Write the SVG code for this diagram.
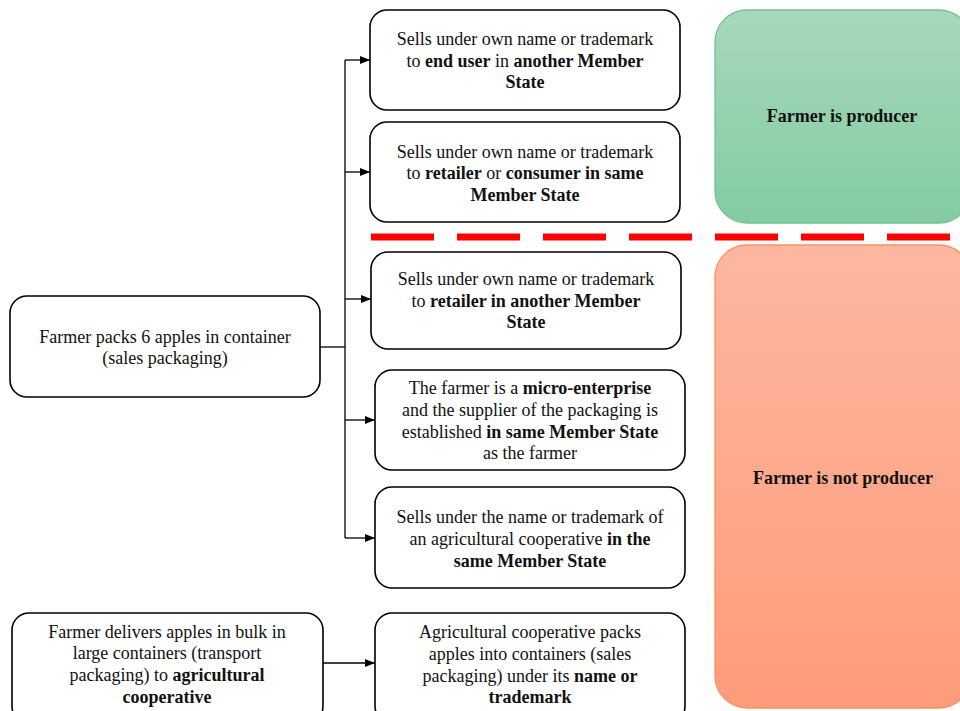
<svg xmlns="http://www.w3.org/2000/svg" width="960" height="711" viewBox="0 0 960 711">
<defs>
<linearGradient id="gG" x1="0" y1="0" x2="0" y2="1">
<stop offset="0" stop-color="#a7d8bb"/><stop offset="1" stop-color="#84cba2"/>
</linearGradient>
<linearGradient id="gR" x1="0" y1="0" x2="0" y2="1">
<stop offset="0" stop-color="#fdb7a0"/><stop offset="1" stop-color="#fe9b7b"/>
</linearGradient>
<marker id="ar" viewBox="0 0 10 10" refX="10" refY="5" markerWidth="10" markerHeight="10" markerUnits="userSpaceOnUse" orient="auto">
<path d="M0,1 L10,5 L0,9 Z" fill="#000"/>
</marker>
<style>
.box{fill:#fff;stroke:#000;stroke-width:1.6}
.t{font-family:'Liberation Serif','Times New Roman',Tinos,'DejaVu Serif','Noto Serif',serif;font-size:18px;fill:#111;text-anchor:middle}
.b{font-weight:bold}
.c{fill:none;stroke:#000;stroke-width:1.3}
.big{font-family:'Liberation Serif','Times New Roman',Tinos,'DejaVu Serif','Noto Serif',serif;font-size:18px;font-weight:bold;fill:#111;text-anchor:middle}
</style>
</defs>

<g id="zone-producer">
<rect x="715" y="10" width="256" height="213" rx="32" fill="url(#gG)" stroke="#72c492" stroke-width="1.3"/>
<text class="big" x="842" y="122">Farmer is producer</text>
</g>
<g id="zone-not-producer">
<rect x="715" y="245" width="256" height="463" rx="32" fill="url(#gR)" stroke="#f99260" stroke-width="1.3"/>
<text class="big" x="843" y="484">Farmer is not producer</text>
</g>

<g id="divider">
<line x1="371" y1="237" x2="960" y2="237" stroke="#ff0000" stroke-width="7" stroke-dasharray="63 23"/>
</g>

<g id="connectors">
<path class="c" d="M320,347 H345"/>
<path class="c" d="M345,60 V538"/>
<path class="c" d="M345,60 H370" marker-end="url(#ar)"/>
<path class="c" d="M345,172 H370" marker-end="url(#ar)"/>
<path class="c" d="M345,299 H371" marker-end="url(#ar)"/>
<path class="c" d="M345,420 H375" marker-end="url(#ar)"/>
<path class="c" d="M345,538 H375" marker-end="url(#ar)"/>
<path class="c" d="M323,663 H375" marker-end="url(#ar)"/>
</g>

<g id="farmer-packs">
<rect class="box" x="10" y="296" width="310" height="101" rx="17"/>
<text class="t" x="165" y="343">Farmer packs 6 apples in container</text>
<text class="t" x="165" y="364">(sales packaging)</text>
</g>

<g id="end-user-other-ms">
<rect class="box" x="370" y="10" width="310" height="100" rx="17"/>
<text class="t" x="525" y="45">Sells under own name or trademark</text>
<text class="t" x="525" y="67">to <tspan class="b">end user</tspan> in <tspan class="b">another Member</tspan></text>
<text class="t b" x="525" y="88">State</text>
</g>

<g id="retailer-same-ms">
<rect class="box" x="370" y="122" width="310" height="100" rx="17"/>
<text class="t" x="525" y="158">Sells under own name or trademark</text>
<text class="t" x="525" y="179">to <tspan class="b">retailer</tspan> or <tspan class="b">consumer in same</tspan></text>
<text class="t b" x="525" y="201">Member State</text>
</g>

<g id="retailer-other-ms">
<rect class="box" x="371" y="252" width="310" height="97" rx="17"/>
<text class="t" x="526" y="285">Sells under own name or trademark</text>
<text class="t" x="526" y="307">to <tspan class="b">retailer in another Member</tspan></text>
<text class="t b" x="526" y="328">State</text>
</g>

<g id="micro-enterprise">
<rect class="box" x="375" y="370" width="310" height="100" rx="17"/>
<text class="t" x="530" y="394">The farmer is a <tspan class="b">micro-enterprise</tspan></text>
<text class="t" x="530" y="416">and the supplier of the packaging is</text>
<text class="t" x="530" y="438">established <tspan class="b">in same Member State</tspan></text>
<text class="t" x="530" y="459">as the farmer</text>
</g>

<g id="cooperative-name">
<rect class="box" x="375" y="487" width="310" height="101" rx="17"/>
<text class="t" x="530" y="523">Sells under the name or trademark of</text>
<text class="t" x="530" y="545">an agricultural cooperative <tspan class="b">in the</tspan></text>
<text class="t b" x="530" y="567">same Member State</text>
</g>

<g id="farmer-delivers">
<rect class="box" x="12" y="613" width="311" height="110" rx="17"/>
<text class="t" x="167" y="638">Farmer delivers apples in bulk in</text>
<text class="t" x="167" y="659">large containers (transport</text>
<text class="t" x="167" y="681">packaging) to <tspan class="b">agricultural</tspan></text>
<text class="t b" x="167" y="703">cooperative</text>
</g>

<g id="cooperative-packs">
<rect class="box" x="375" y="613" width="310" height="110" rx="17"/>
<text class="t" x="530" y="638">Agricultural cooperative packs</text>
<text class="t" x="530" y="660">apples into containers (sales</text>
<text class="t" x="530" y="682">packaging) under its <tspan class="b">name or</tspan></text>
<text class="t b" x="530" y="703">trademark</text>
</g>
</svg>
